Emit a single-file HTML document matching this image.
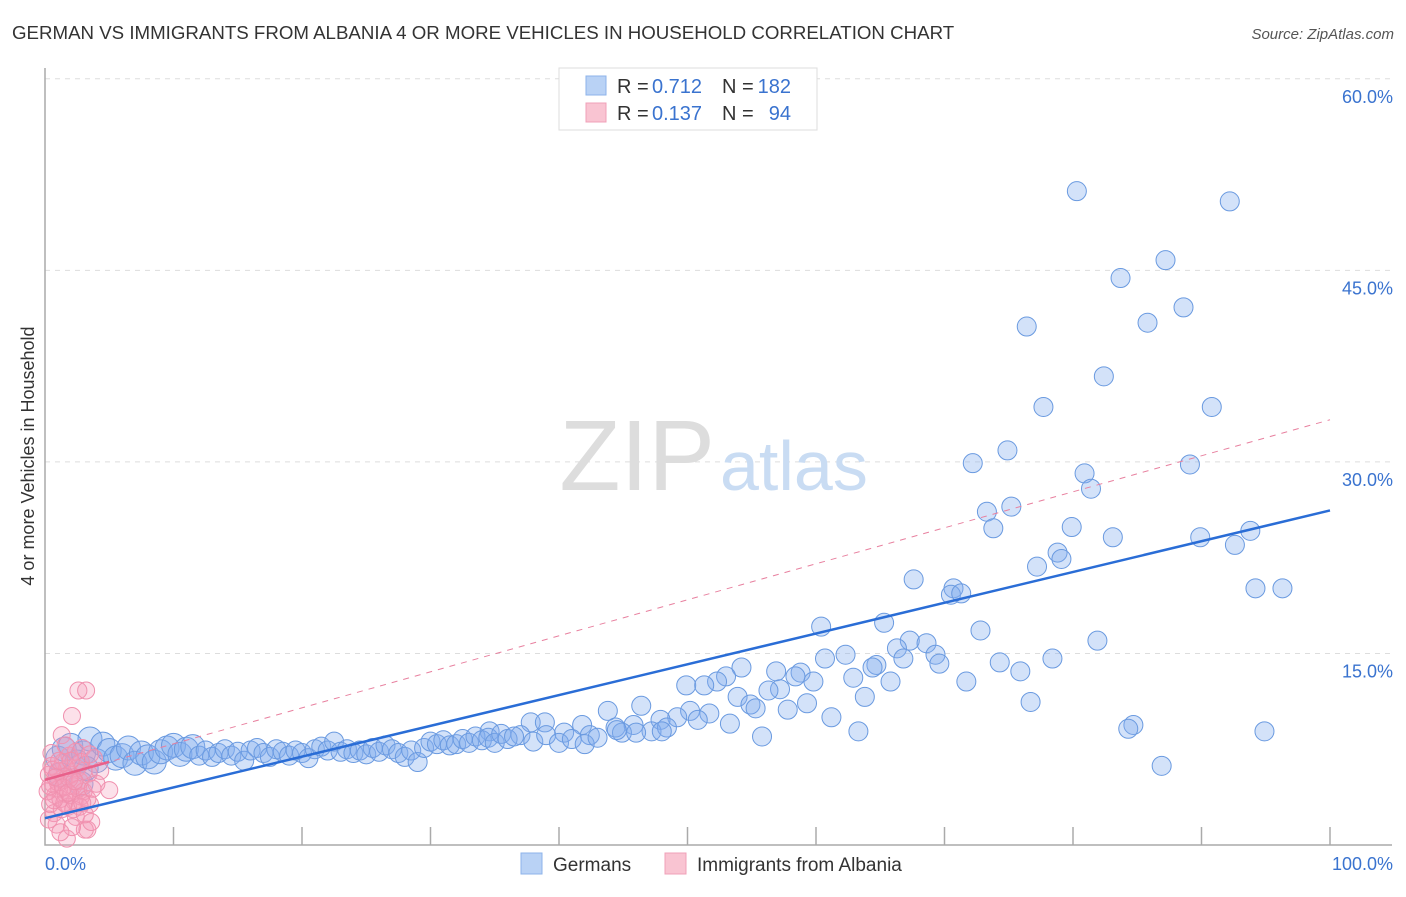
<!DOCTYPE html>
<html><head><meta charset="utf-8"><style>
body{margin:0;background:#fff;font-family:"Liberation Sans",sans-serif}
svg text{font-family:"Liberation Sans",sans-serif}
</style></head><body>
<svg width="1406" height="892">
<text x="12" y="39" font-size="18.7" fill="#333">GERMAN VS IMMIGRANTS FROM ALBANIA 4 OR MORE VEHICLES IN HOUSEHOLD CORRELATION CHART</text>
<text x="1394" y="39" font-size="15" fill="#555" font-style="italic" text-anchor="end">Source: ZipAtlas.com</text>
<text transform="translate(34,456) rotate(-90)" font-size="18" fill="#333" text-anchor="middle">4 or more Vehicles in Household</text>
<g id="grid"></g>
<text x="715" y="490" font-size="100" fill="#ddd" text-anchor="end" font-family="Liberation Serif">ZIP</text>
<text x="720" y="490" font-size="70" fill="#c9dcf3">atlas</text>
<g id="pts"></g>
<g id="lines"></g>
<g>
<rect x="559" y="68" width="258" height="62" fill="#fff" stroke="#ddd"/>
<rect x="586" y="76" width="20" height="19" fill="#b9d2f5" stroke="#8db3ea"/>
<rect x="586" y="103" width="20" height="19" fill="#f9c4d2" stroke="#f0a0b8"/>
<text x="617" y="93" font-size="20" fill="#333">R =</text>
<text x="652" y="93" font-size="20" fill="#3a73cf">0.712</text>
<text x="722" y="93" font-size="20" fill="#333">N =</text>
<text x="791" y="93" font-size="20" fill="#3a73cf" text-anchor="end">182</text>
<text x="617" y="120" font-size="20" fill="#333">R =</text>
<text x="652" y="120" font-size="20" fill="#3a73cf">0.137</text>
<text x="722" y="120" font-size="20" fill="#333">N =</text>
<text x="791" y="120" font-size="20" fill="#3a73cf" text-anchor="end">94</text>
</g>
<g>
<rect x="521" y="853" width="21" height="21" fill="#b9d2f5" stroke="#8db3ea"/>
<text x="553" y="871" font-size="19" fill="#333">Germans</text>
<rect x="665" y="853" width="21" height="21" fill="#f9c4d2" stroke="#f0a0b8"/>
<text x="697" y="871" font-size="19" fill="#333">Immigrants from Albania</text>
</g>
</svg>
<script>
const yTicks=[15,30,45,60];
const yTickLabels=["15.0%","30.0%","45.0%","60.0%"];
const xTickLabels=["0.0%","100.0%"];
const germans=[[80.3,51.2],[92.2,50.4],[87.2,45.8],[83.7,44.4],[88.6,42.1],[85.8,40.9],[76.4,40.6],[82.4,36.7],[77.7,34.3],[90.8,34.3],[74.9,30.9],[72.2,29.9],[89.1,29.8],[80.9,29.1],[81.4,27.9],[73.3,26.1],[75.2,26.5],[73.8,24.8],[79.9,24.9],[83.1,24.1],[89.9,24.1],[93.8,24.6],[92.6,23.5],[78.8,22.9],[79.1,22.4],[77.2,21.8],[67.6,20.8],[70.7,20.1],[70.5,19.6],[71.3,19.7],[94.2,20.1],[96.3,20.1],[60.4,17.1],[65.3,17.4],[72.8,16.8],[67.3,16.0],[68.6,15.8],[66.3,15.4],[81.9,16.0],[62.3,14.9],[60.7,14.6],[66.8,14.6],[69.3,14.9],[69.6,14.2],[78.4,14.6],[74.3,14.3],[75.9,13.6],[64.7,14.1],[64.4,13.9],[62.9,13.1],[54.2,13.9],[56.9,13.6],[58.8,13.5],[58.4,13.2],[53,13.2],[52.3,12.8],[65.8,12.8],[71.7,12.8],[59.8,12.8],[57.2,12.2],[56.3,12.1],[49.9,12.5],[51.3,12.5],[53.9,11.6],[63.8,11.6],[54.9,11.0],[55.3,10.7],[59.3,11.1],[76.7,11.2],[46.4,10.9],[43.8,10.5],[50.2,10.5],[51.7,10.3],[57.8,10.6],[61.2,10.0],[49.2,10.0],[47.9,9.8],[53.3,9.5],[50.8,9.8],[41.8,9.4],[37.8,9.6],[38.9,9.6],[44.4,9.2],[45.8,9.4],[63.3,8.9],[84.7,9.4],[84.3,9.1],[94.9,8.9],[55.8,8.5],[34.6,8.9],[37,8.6],[40.4,8.8],[42.4,8.6],[44.9,8.8],[47.2,8.9],[48.4,9.2],[86.9,6.2],
[1,6.8],[1.5,7.5],[2,7.8],[2.5,6.5],[3,7.2],[3.5,8.3],[4,6.6],[4.5,7.9],[5,7.4],[5.5,6.8],[6,7.0],[6.5,7.6],[7,6.4],[7.5,7.2],[8,6.9],[8.5,6.5],[9,7.3],[9.5,7.6],[10,7.8],[10.5,7.1],[11,7.5],[11.5,7.7],[12,7.0],[12.5,7.4],[13,6.9],[13.5,7.2],[14,7.5],[14.5,7.0],[15,7.3],[15.5,6.6],[16,7.4],[16.5,7.6],[17,7.2],[17.5,6.9],[18,7.5],[18.5,7.3],[19,7.0],[19.5,7.4],[20,7.2],[20.5,6.8],[21,7.5],[21.5,7.7],[22,7.4],[22.5,8.1],[23,7.3],[23.5,7.5],[24,7.2],[24.5,7.4],[25,7.1],[25.5,7.6],[26,7.3],[26.5,7.8],[27,7.5],[27.5,7.2],[28,6.9],[28.5,7.4],[29,6.5],[29.5,7.6],[30,8.1],[30.5,7.9],[31,8.2],[31.5,7.8],[32,7.9],[32.5,8.3],[33,8.0],[33.5,8.5],[34,8.2],[34.5,8.4],[35,8.0],[35.5,8.7],[36,8.3],[36.5,8.5],[38,8.1],[39,8.6],[40,8.0],[41,8.3],[42,7.9],[43,8.4],[44.5,9.0],[46,8.8],[48,8.9],[2.8,4.8],[1.2,5.5],[3.2,6.0]];
const albania=[[2.6,12.1],[3.2,12.1],[2.1,10.1],[1.3,8.6],[5,4.3],[3.3,1.2],[3.1,1.2],[1.7,0.5],[0.3,5.5],[0.5,6.2],[0.6,4.8],[0.8,3.9],[0.4,3.2],[0.7,2.5],[1.0,5.8],[1.1,4.4],[1.2,3.6],[1.4,6.5],[1.5,5.1],[1.6,4.0],[1.8,3.0],[1.9,7.0],[2.0,5.5],[2.2,4.6],[2.3,3.4],[2.4,2.2],[2.5,6.0],[2.7,5.0],[2.8,3.8],[2.9,7.6],[3.0,4.2],[3.4,5.6],[3.5,3.2],[3.6,1.8],[3.8,6.8],[4.0,4.8],[0.2,4.2],[0.3,2.0],[0.9,1.6],[1.3,2.8],[1.7,6.0],[2.1,1.4],[2.4,7.3],[0.5,7.2],[1.0,4.9],[1.5,3.3],[2.0,3.9],[2.6,4.4],[3.0,5.8],[3.3,3.6],[0.6,5.9],[1.1,6.6],[1.9,5.2],[2.2,2.8],[2.8,6.5],[3.7,4.4],[0.4,4.6],[0.8,5.3],[1.4,4.5],[1.8,4.1],[2.3,5.0],[2.7,3.0],[3.1,2.4],[4.3,5.8],[1.6,7.8],[1.2,1.0],[0.7,3.5],[2.0,6.6],[3.5,7.1],[2.9,3.3]];
const blueTrend=[2.1,26.2];
const pinkTrend=[5.1,33.3];
const NS="http://www.w3.org/2000/svg";
const X=v=>45+v*12.85, Y=v=>845-v*12.77;
function mk(t,a,p){const e=document.createElementNS(NS,t);for(const k in a)e.setAttribute(k,a[k]);p.appendChild(e);return e;}
const grid=document.getElementById('grid');
yTicks.forEach((t,i)=>{
 const l=mk('line',{x1:45,x2:1392,y1:Y(t),y2:Y(t),stroke:'#ddd','stroke-dasharray':'5,5'},grid);
 
 
 const tx=mk('text',{x:1393,y:Y(t)+24,'font-size':18,fill:'#3a73cf','text-anchor':'end'},grid);
 tx.textContent=yTickLabels[i];
 
 
});
const ax=mk('path',{d:'M45,68V845H1392',fill:'none',stroke:'#aaa','stroke-width':1.5},grid);


for(let i=1;i<=10;i++){const t=mk('line',{x1:X(i*10),x2:X(i*10),y1:827,y2:845,stroke:'#aaa','stroke-width':1.5},grid);
 
 }
[[0,'start',45],[100,'end',1393]].forEach((d,i)=>{const t=mk('text',{x:d[2],y:870,'font-size':18,fill:'#3a73cf','text-anchor':d[1]},grid);t.textContent=xTickLabels[i];
 
 });
const pts=document.getElementById('pts');
germans.forEach(d=>{const c=mk('circle',{cx:X(d[0]),cy:Y(d[1]),r:d[0]<12?12:9.5,fill:'rgba(130,172,238,0.35)',stroke:'#6a9ae0','stroke-width':1},pts);
 
 });
albania.forEach(d=>{const c=mk('circle',{cx:X(d[0]),cy:Y(d[1]),r:8.5,fill:'rgba(245,155,185,0.3)',stroke:'#f090ae','stroke-width':1},pts);
 
 });
const lines=document.getElementById('lines');
const pd=mk('line',{x1:X(0),y1:Y(pinkTrend[0]),x2:X(100),y2:Y(pinkTrend[1]),stroke:'#e8809f','stroke-dasharray':'6,6','stroke-width':1},lines);


const ps=mk('line',{x1:X(0),y1:Y(pinkTrend[0]),x2:X(5),y2:Y(pinkTrend[0]+(pinkTrend[1]-pinkTrend[0])*0.05),stroke:'#e8608a','stroke-width':2.5},lines);


const bl=mk('line',{x1:X(0),y1:Y(blueTrend[0]),x2:X(100),y2:Y(blueTrend[1]),stroke:'#2a6dd6','stroke-width':2.5},lines);


</script>
</body></html>
